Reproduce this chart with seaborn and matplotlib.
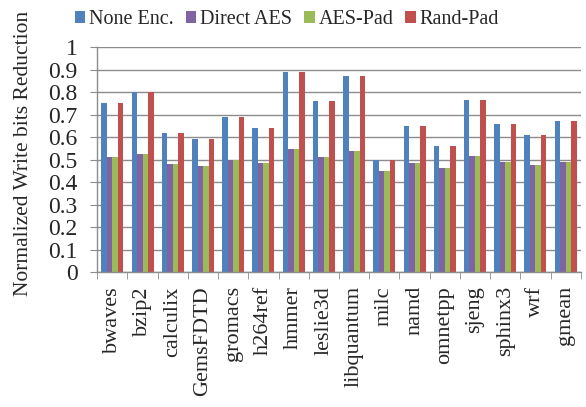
import matplotlib
matplotlib.use("Agg")
import matplotlib.pyplot as plt
import seaborn as sns
import pandas as pd
import numpy as np

benchmarks = ["bwaves", "bzip2", "calculix", "GemsFDTD", "gromacs", "h264ref", "hmmer",
              "leslie3d", "libquantum", "milc", "namd", "omnetpp", "sjeng", "sphinx3", "wrf", "gmean"]
series = ["None Enc.", "Direct AES", "AES-Pad", "Rand-Pad"]
none_enc   = [0.75, 0.80, 0.62, 0.59, 0.69, 0.64, 0.89, 0.76, 0.87, 0.50, 0.65, 0.56, 0.765, 0.66, 0.61, 0.67]
direct_aes = [0.51, 0.525, 0.48, 0.47, 0.50, 0.485, 0.547, 0.513, 0.541, 0.448, 0.487, 0.465, 0.515, 0.489, 0.477, 0.492]
aes_pad    = [0.51, 0.525, 0.48, 0.47, 0.50, 0.485, 0.547, 0.513, 0.541, 0.448, 0.487, 0.465, 0.515, 0.489, 0.477, 0.492]
rand_pad   = [0.75, 0.80, 0.62, 0.59, 0.69, 0.64, 0.89, 0.76, 0.87, 0.50, 0.65, 0.56, 0.765, 0.66, 0.61, 0.67]
colors = ["#4F81BD", "#8064A2", "#9BBB59", "#C0504D"]

rows = []
for name, vals in zip(series, [none_enc, direct_aes, aes_pad, rand_pad]):
    for b, v in zip(benchmarks, vals):
        rows.append({"bench": b, "series": name, "value": v})
df = pd.DataFrame(rows)

sns.set_style("white")
plt.rcParams["font.family"] = ["Liberation Serif", "DejaVu Serif"]

fig = plt.figure(figsize=(5.86, 4.07), dpi=100)
ax = fig.add_axes([0.166, 0.331, 0.825, 0.553])
sns.barplot(data=df, x="bench", y="value", hue="series", hue_order=series,
            order=benchmarks, palette=colors, width=0.73, gap=0, ax=ax,
            saturation=1, edgecolor="none", linewidth=0, legend=True)

ax.set_ylim(0, 1)
ax.set_xlim(-0.5, len(benchmarks) - 0.5)
yt = np.arange(0, 1.01, 0.1)
ax.set_yticks(yt)
ax.set_yticklabels(["%g" % round(t, 1) for t in yt], fontsize=17)
ax.yaxis.grid(True, color="#8c8c8c", linewidth=1)
ax.set_axisbelow(True)
ax.tick_params(axis="y", length=5, color="#8c8c8c", pad=9, direction="out", left=True)
ax.set_xticks(range(len(benchmarks)))
ax.set_xticklabels(benchmarks, rotation=90, fontsize=16)
ax.tick_params(axis="x", which="major", length=0, pad=10)
ax.set_xticks(np.arange(-0.5, len(benchmarks), 1), minor=True)
ax.tick_params(axis="x", which="minor", length=5, color="#8c8c8c", direction="out", bottom=True)
ax.set_xlabel("")
ax.set_ylabel("Normalized Write bits Reduction", fontsize=15.5)
ax.yaxis.set_label_coords(-0.133, 0.53)
for s in ["top", "right"]:
    ax.spines[s].set_visible(False)
for s in ["left", "bottom"]:
    ax.spines[s].set_color("#8c8c8c")
    ax.spines[s].set_linewidth(1)

handles, labels = ax.get_legend_handles_labels()
ax.get_legend().remove()
fig.legend(handles, labels, loc="upper center", bbox_to_anchor=(0.49, 1.02), ncol=4,
           frameon=False, fontsize=14.5, handlelength=0.5, handleheight=0.5,
           handletextpad=0.2, columnspacing=0.6)

fig.savefig("out.png", dpi=100)
